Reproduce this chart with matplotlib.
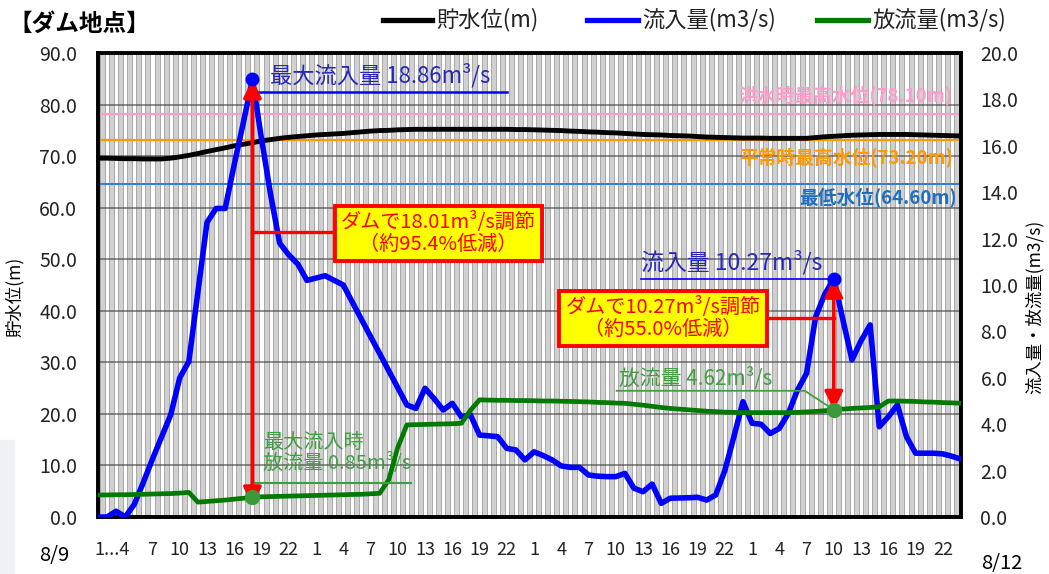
import matplotlib
matplotlib.use('Agg')
import matplotlib.pyplot as plt
import matplotlib.patches as patches
from matplotlib.lines import Line2D
import numpy as np

plt.rcParams['font.family'] = ['Noto Sans CJK JP', 'DejaVu Sans']

# hourly data 8/9 1:00 -> 8/12 24:00
inflow = [0.0, 0.0, 0.25, 0.0, 0.55, 1.5, 2.5, 3.45, 4.4, 6.0,
          6.7, 9.7, 12.7, 13.3, 13.3, 15.2, 17.0, 18.86, 16.3, 13.9,
          11.8, 11.3, 10.9, 10.2, 10.3, 10.4, 10.2, 10.0, 9.26, 8.52,
          7.78, 7.05, 6.31, 5.57, 4.83, 4.68, 5.55, 5.1, 4.61, 4.9,
          4.32, 4.4, 3.53, 3.5, 3.46, 2.96, 2.89, 2.46, 2.81, 2.65,
          2.46, 2.2, 2.14, 2.14, 1.81, 1.76, 1.74, 1.74, 1.88, 1.24,
          1.09, 1.42, 0.59, 0.81, 0.82, 0.83, 0.85, 0.73, 0.95, 2.0,
          3.46, 4.97, 4.04, 4.0, 3.6, 3.82, 4.47, 5.47, 6.19, 8.63,
          9.6, 10.27, 8.5, 6.77, 7.6, 8.28, 3.89, 4.32, 4.83, 3.46,
          2.75, 2.75, 2.75, 2.72, 2.62, 2.49]

outflow = [0.95, 0.95, 0.96, 0.96, 0.97, 0.98, 0.99, 1.0, 1.01, 1.03,
           1.06, 0.64, 0.67, 0.70, 0.73, 0.77, 0.81, 0.85, 0.87, 0.88,
           0.89, 0.90, 0.91, 0.92, 0.93, 0.94, 0.95, 0.96, 0.97, 0.98,
           1.0, 1.02, 1.6, 3.0, 3.97, 3.98, 3.99, 4.0, 4.01, 4.02,
           4.04, 4.6, 5.05, 5.04, 5.03, 5.03, 5.02, 5.02, 5.01, 5.0,
           5.0, 4.99, 4.98, 4.97, 4.96, 4.94, 4.93, 4.91, 4.9, 4.86,
           4.82, 4.77, 4.72, 4.68, 4.65, 4.62, 4.59, 4.56, 4.54, 4.52,
           4.51, 4.5, 4.5, 4.5, 4.5, 4.5, 4.5, 4.51, 4.53, 4.55,
           4.58, 4.62, 4.65, 4.68, 4.7, 4.72, 4.75, 5.0, 5.0, 4.99,
           4.98, 4.96, 4.95, 4.93, 4.92, 4.9]

level = [69.6, 69.6, 69.55, 69.5, 69.5, 69.45, 69.45, 69.45, 69.6, 69.85,
         70.15, 70.5, 70.9, 71.25, 71.6, 72.0, 72.3, 72.6, 72.95, 73.2,
         73.45, 73.65, 73.8, 73.95, 74.1, 74.2, 74.3, 74.4, 74.55, 74.7,
         74.85, 74.95, 75.0, 75.1, 75.15, 75.2, 75.2, 75.2, 75.2, 75.2,
         75.2, 75.2, 75.2, 75.2, 75.2, 75.2, 75.15, 75.15, 75.1, 75.05,
         75.0, 74.95, 74.85, 74.8, 74.7, 74.65, 74.55, 74.5, 74.4, 74.3,
         74.2, 74.15, 74.1, 74.0, 73.95, 73.9, 73.8, 73.7, 73.65, 73.6,
         73.55, 73.5, 73.5, 73.5, 73.45, 73.45, 73.45, 73.45, 73.45, 73.6,
         73.75, 73.85, 73.95, 74.05, 74.1, 74.15, 74.2, 74.2, 74.2, 74.2,
         74.15, 74.1, 74.05, 74.0, 73.95, 73.9]

hour_labels = ['1...4', '7', '10', '13', '16', '19', '22']
hour_labels_day = ['1', '4', '7', '10', '13', '16', '19', '22']

flood_level = 78.10
normal_level = 73.20
min_level = 64.60

x = np.arange(len(inflow))
n = len(x)

fig = plt.figure(figsize=(10.49, 5.74), dpi=100)
fig.patches.append(patches.Rectangle((0, 0), 14 / 1049, 134 / 574, transform=fig.transFigure,
                                     color='#eef1f6', zorder=0))
ax = fig.add_axes([98 / 1049, 1 - 517 / 574, 863 / 1049, 464 / 574])
ax.set_xlim(0, n - 1)
ax.set_ylim(0, 90)

# background stripes + grid
ax.bar(x[:-1] + 0.5, 90, width=0.55, color='#d0d0d0', edgecolor='#a8a8a8', lw=0.7, zorder=0)
for yv in range(10, 90, 10):
    ax.axhline(yv, color='#454545', lw=1.4, alpha=0.6, zorder=1)

# reference levels
ax.axhline(flood_level, color='#ff9ccc', lw=1.6, zorder=2)
ax.axhline(normal_level, color='#ff9900', lw=1.6, zorder=2)
ax.axhline(min_level, color='#2a7fd0', lw=1.4, zorder=2)
ax.text(94.1, flood_level + 3.7, '洪水時最高水位(78.10m)', ha='right', va='center',
        color='#ff9ccc', fontsize=13.5, fontweight='bold', zorder=3)
ax.text(94.1, normal_level - 3.4, '平常時最高水位(73.20m)', ha='right', va='center',
        color='#ff9900', fontsize=13.5, fontweight='bold', zorder=3)
ax.text(94.5, min_level - 2.8, '最低水位(64.60m)', ha='right', va='center',
        color='#1f6fc0', fontsize=13.5, fontweight='bold', zorder=3)

ax.plot(x, level, color='black', lw=3.5, zorder=4)

ax2 = ax.twinx()
ax2.set_ylim(0, 20)
ax2.plot(x, inflow, color='#0000ff', lw=4.0, zorder=3, solid_joinstyle='round')
ax2.plot(x, outflow, color='#007a00', lw=3.4, zorder=3)

inflow = np.array(inflow)
outflow = np.array(outflow)
p1 = int(np.argmax(inflow[:48]))
p2 = 48 + int(np.argmax(inflow[48:]))

green_txt = '#3f9f3f'

# first peak
ax2.plot([p1, 45.0], [18.33, 18.33], color='#0000ff', lw=1.8, zorder=4)
ax2.text(18.9, 19.05, '最大流入量 18.86m³/s', color='#2828b8', fontsize=16, va='center', zorder=6)
ax2.plot([p1 + 0.3, 34.5], [1.45, 1.45], color=green_txt, lw=1.5, zorder=4)
ax2.text(18.2, 2.74, '最大流入時\n放流量 0.85m³/s', color=green_txt, fontsize=14.5, va='center',
         linespacing=1.0, zorder=6)
ax2.plot([p1, 25.7], [12.3, 12.3], color='red', lw=2.4, zorder=5)
ax2.annotate('', xy=(p1, inflow[p1]), xytext=(p1, 0.5),
             arrowprops=dict(arrowstyle='<|-|>,head_length=1.1,head_width=0.55', color='red',
                             lw=2.6, shrinkA=0, shrinkB=0), zorder=5)
ax2.text(37.5, 12.23, 'ダムで18.01m³/s調節\n（約95.4%低減）', ha='center', va='center', color='red',
         fontsize=14.5, linespacing=1.05, zorder=7,
         bbox=dict(boxstyle='square,pad=0.3', fc='#ffff00', ec='red', lw=2.8))

# second peak
ax2.plot([59.8, p2], [10.25, 10.25], color='#0000ff', lw=1.2, zorder=4)
ax2.text(59.8, 11.0, '流入量 10.27m³/s', color='#2828b8', fontsize=16.5, va='center', zorder=6)
ax2.plot([57.1, 77.8, p2], [5.44, 5.44, outflow[p2]], color=green_txt, lw=1.3, zorder=4)
ax2.text(57.3, 5.98, '放流量 4.62m³/s', color=green_txt, fontsize=15, va='center', zorder=6)
ax2.plot([73.9, p2], [8.58, 8.58], color='red', lw=2.4, zorder=5)
ax2.annotate('', xy=(p2, inflow[p2]), xytext=(p2, outflow[p2]),
             arrowprops=dict(arrowstyle='<|-|>,head_length=1.1,head_width=0.55', color='red',
                             lw=2.6, shrinkA=0, shrinkB=0), zorder=5)
ax2.text(62.2, 8.56, 'ダムで10.27m³/s調節\n（約55.0%低減）', ha='center', va='center', color='red',
         fontsize=14.5, linespacing=1.05, zorder=7,
         bbox=dict(boxstyle='square,pad=0.3', fc='#ffff00', ec='red', lw=2.8))

# markers
ax2.plot([p1, p2], inflow[[p1, p2]], 'o', color='#0000ff', ms=9, zorder=6)
ax2.plot([p1, p2], outflow[[p1, p2]], 'o', color='#3a9a3a', ms=10, zorder=6)

# axes styling
for a in (ax, ax2):
    for s in a.spines.values():
        s.set_linewidth(2.6)
        s.set_color('black')
ax.set_yticks(range(0, 91, 10))
ax.set_yticklabels([f'{v:.1f}' for v in range(0, 91, 10)])
ax2.set_yticks(range(0, 21, 2))
ax2.set_yticklabels([f'{v:.1f}' for v in range(0, 21, 2)])
ax.tick_params(axis='y', length=0, pad=15, labelsize=14, colors='#222222')
ax2.tick_params(axis='y', length=0, pad=14, labelsize=14, colors='#222222')

tick_pos = [1.5] + list(range(6, 24, 3))
labels = list(hour_labels)
for d in range(1, 4):
    tick_pos += [24 * d + h for h in range(0, 24, 3)]
    labels += hour_labels_day
ax.set_xticks(tick_pos)
ax.set_xticklabels(labels)
ax.tick_params(axis='x', length=0, pad=17, labelsize=13, colors='#222222')

fig.text(15 / 1049, 1 - 297 / 574, '貯水位(m)', rotation=90, ha='center', va='center', fontsize=12.5)
fig.text(1035 / 1049, 1 - 307 / 574, '流入量・放流量(m3/s)', rotation=90, ha='center', va='center',
         fontsize=12.5)
fig.text(54 / 1049, 1 - 555 / 574, '8/9', ha='center', va='center', fontsize=14.5)
fig.text(1002 / 1049, 1 - 564 / 574, '8/12', ha='center', va='center', fontsize=14.5)

# title and legend
fig.text(8 / 1049, 1 - 24 / 574, '【ダム地点】', ha='left', va='center', fontsize=17, fontweight='bold')
legend_items = [((383, 432), 'black', '貯水位(m)'),
                ((587, 638), '#0000ff', '流入量(m3/s)'),
                ((817, 868), '#007a00', '放流量(m3/s)')]
for (x0, x1), c, lab in legend_items:
    fig.add_artist(Line2D([x0 / 1049, x1 / 1049], [1 - 19.5 / 574] * 2, color=c, lw=3.8,
                          transform=fig.transFigure))
    fig.text((x1 + 4) / 1049, 1 - 20 / 574, lab, ha='left', va='center', fontsize=16, color='#222222')

fig.savefig('out.png', dpi=100, facecolor='white')
